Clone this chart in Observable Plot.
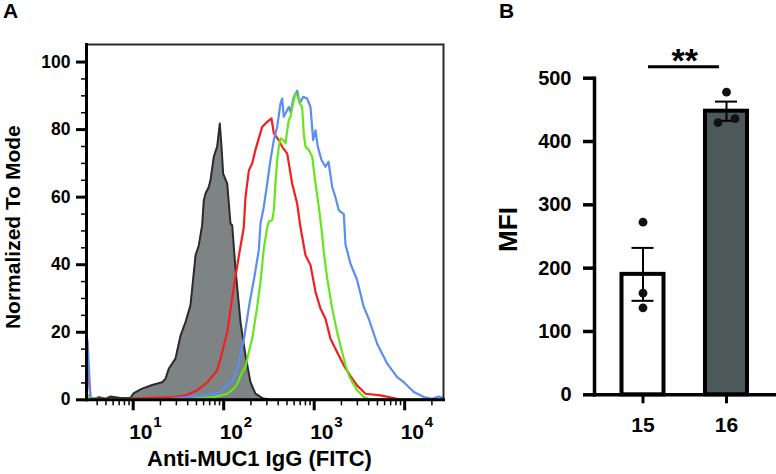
<!DOCTYPE html>
<html><head><meta charset="utf-8">
<script src="https://cdn.jsdelivr.net/npm/d3@7"></script>
<script src="https://cdn.jsdelivr.net/npm/@observablehq/plot@0.6"></script>
<style>
html,body{margin:0;padding:0;background:#fff;}
#wrap{position:relative;width:776px;height:474px;overflow:hidden;font-family:"Liberation Sans",Arial,sans-serif;font-weight:bold;color:#000;}
#a{position:absolute;left:0;top:0;width:480px;height:474px;}
#b{position:absolute;left:480px;top:0;width:296px;height:474px;}
.panel{position:absolute;font-size:21px;font-weight:bold;line-height:normal;}
</style></head><body>
<div id="wrap">
  <div id="a"></div>
  <div id="b"></div>
  <div class="panel" style="left:3px;top:-1px">A</div>
  <div class="panel" style="left:499px;top:-1px">B</div>
</div>
<script>
// ---------- Panel A data: histogram traces (log10 of FITC intensity, % of mode) ----------
const isotypeLog = [0.528,0.560,0.620,0.694,0.749,0.860,0.970,1.007,1.099,1.210,1.320,1.357,1.393,1.467,1.523,1.578,1.633,1.689,1.725,1.762,1.780,1.799,1.835,1.854,1.891,1.928,1.957,1.976,1.994,2.039,2.075,2.094,2.130,2.186,2.241,2.296,2.351,2.429,2.517,4.42];
const isotypeVal = [0,0,0.8,0.3,1.0,0.5,0.6,2.0,3.3,4.4,5.2,6.2,9.2,12.2,19,23,28,42.8,45.7,51.7,59,61,63,65,72,75,81.8,75,67,64,52.2,51.7,38.8,23,13.1,5.2,1.8,0.5,0,0];

const redLog = [0.495,0.528,0.8,1.449,1.578,1.707,1.818,1.928,1.965,2.039,2.112,2.167,2.222,2.241,2.279,2.315,2.351,2.425,2.481,2.528,2.554,2.609,2.646,2.702,2.757,2.812,2.849,2.904,2.960,3.015,3.070,3.125,3.180,3.254,3.327,3.401,3.475,3.567,3.733,3.917,3.987];
const redVal = [11,0.4,0.2,0.8,1.3,2.8,5.2,8.7,12.2,20,33.5,42.5,51,60,68,70,74,80.8,82.3,83.3,78.9,76.9,74.9,72.9,64,58.1,51,42.8,39.8,31.9,27,24,18.1,14.1,10.2,7,4.2,1.8,1.3,0.3,0];

const blueLog = [0.495,0.528,0.639,1.003,1.412,1.707,1.891,1.965,2.039,2.094,2.164,2.230,2.285,2.340,2.388,2.407,2.443,2.481,2.517,2.554,2.591,2.628,2.646,2.664,2.683,2.719,2.738,2.775,2.812,2.841,2.878,2.923,2.959,2.989,3.015,3.040,3.081,3.125,3.158,3.199,3.235,3.272,3.327,3.346,3.401,3.475,3.548,3.603,3.696,3.807,3.917,3.990,4.101,4.211,4.304,4.377,4.429];
const blueVal = [17.6,0.5,0.2,0.1,0.3,1.1,1.8,2.3,4.7,5.2,10.5,19,28.5,36.5,44.3,52.2,57.1,64,71,76.9,80.8,87.8,89.2,83.8,84.8,86.7,85.2,89.7,91.5,87.8,89.7,89.2,86.7,76.9,79.8,74.9,71,69,70.5,63,60,56.1,55,46,40.3,35.4,27.5,24,16.6,10.7,6.7,5.2,2.3,0.8,0.3,1,0.5];

const greenLog = [0.495,0.528,1.633,1.891,2.039,2.112,2.149,2.204,2.241,2.277,2.318,2.370,2.407,2.443,2.481,2.498,2.536,2.554,2.572,2.591,2.609,2.628,2.657,2.683,2.702,2.719,2.738,2.768,2.793,2.819,2.841,2.867,2.885,2.904,2.940,2.978,3.015,3.051,3.081,3.106,3.144,3.199,3.254,3.309,3.346,3.383,3.401,3.475,3.548,3.622,4.285];
const greenVal = [1.5,0.2,0.2,0.8,1.8,3.3,4.7,8.2,9.7,14.1,18.5,27.5,35,44.8,51,52.7,53.2,56.1,64,71,74.9,77.4,76.9,75.9,79.8,82.8,83.8,87.8,90.7,89.7,87.8,86.7,78.9,74.9,74,72,64,57.1,50.5,43.8,35.9,27,20,14.1,10.2,7.2,6.2,2.8,0.8,0.1,0];

const xMajorTicks = [10, 100, 1000, 10000];
const xTickExponents = ["1", "2", "3", "4"];
const yTicksA = [0, 20, 40, 60, 80, 100];
const xTitleA = "Anti-MUC1 IgG (FITC)";
const yTitleA = "Normalized To Mode";

// ---------- Panel B data ----------
const groups = ["15", "16"];
const mfi15 = [272.7, 160.5, 137.4];
const mfi16 = [478, 429.7, 436];
const yTicksB = [0, 100, 200, 300, 400, 500];
const yTitleB = "MFI";
const sigText = "**";

// ---------- helpers ----------
const FONT = '"Liberation Sans", Arial, Helvetica, sans-serif';
const rows = (L, V) => L.map((l, i) => ({x: Math.pow(10, l), y: V[i]}));
const isotype = rows(isotypeLog, isotypeVal);
const red = rows(redLog, redVal);
const blue = rows(blueLog, blueVal);
const green = rows(greenLog, greenVal);

const xDomainA = [Math.pow(10, 0.484), Math.pow(10, 4.429)];
const xMinorTicks = [];
for (const p of [1, 10, 100, 1000, 10000]) for (let m = 2; m <= 9; m++) {
  const v = m * p;
  if (v >= xDomainA[0] && v <= xDomainA[1]) xMinorTicks.push(v);
}
const yMinorA = d3.range(0, 105, 5).filter(v => v % 20 !== 0);

const plotA = Plot.plot({
  width: 480, height: 474,
  marginLeft: 86, marginRight: 37, marginTop: 44, marginBottom: 74.7,
  style: {fontFamily: FONT, fontWeight: "bold", color: "#000", background: "transparent", overflow: "visible"},
  x: {type: "log", domain: xDomainA},
  y: {domain: [0, 105.2]},
  marks: [
    Plot.areaY(isotype, {x: "x", y: "y", fill: "#7e8483"}),
    Plot.lineY(isotype, {x: "x", y: "y", stroke: "#2b2b2b", strokeWidth: 2}),
    Plot.lineY(red, {x: "x", y: "y", stroke: "#f41e1e", strokeWidth: 2.2}),
    Plot.lineY(blue, {x: "x", y: "y", stroke: "#5a8ef2", strokeWidth: 2.2}),
    Plot.lineY(green, {x: "x", y: "y", stroke: "#66e51f", strokeWidth: 2.2}),
    Plot.frame({stroke: "#2a2a2a", strokeWidth: 2}),
    Plot.frame({anchor: "left", stroke: "#000", strokeWidth: 3}),
    Plot.frame({anchor: "bottom", stroke: "#000", strokeWidth: 3}),
    Plot.axisY(yTicksA, {tickSize: 10, tickPadding: 6, strokeWidth: 3, fontSize: 17.5, label: null}),
    Plot.axisY(yMinorA, {tickSize: 5, strokeWidth: 1.5, tickFormat: () => "", label: null}),
    Plot.axisX(xMajorTicks, {tickSize: 11, strokeWidth: 3, tickFormat: () => "", label: null}),
    Plot.axisX(xMinorTicks.filter(v => !xMajorTicks.includes(v)), {tickSize: 6, strokeWidth: 1.5, tickFormat: () => "", label: null}),
    Plot.text(xMajorTicks, {x: d => d, text: () => "10", frameAnchor: "bottom", textAnchor: "start", lineAnchor: "bottom", dx: -4, dy: 39, fontSize: 21}),
    Plot.text(xMajorTicks, {x: d => d, text: (d, i) => xTickExponents[i], frameAnchor: "bottom", textAnchor: "start", lineAnchor: "bottom", dx: 20, dy: 27.4, fontSize: 15}),
    Plot.text([xTitleA], {text: d => d, frameAnchor: "bottom", textAnchor: "middle", lineAnchor: "bottom", dx: -5.5, dy: 65.7, fontSize: 22}),
    Plot.text([yTitleA], {text: d => d, frameAnchor: "left", textAnchor: "middle", lineAnchor: "middle", rotate: -90, dx: -73.5, dy: 5, fontSize: 21})
  ]
});
document.getElementById("a").append(plotA);

// ---------- Panel B ----------
const points = [
  ...mfi15.map(v => ({group: "15", value: v})),
  ...mfi16.map(v => ({group: "16", value: v}))
];
const summary = groups.map(g => {
  const vals = points.filter(p => p.group === g).map(p => p.value);
  const m = d3.mean(vals), se = d3.deviation(vals) / Math.sqrt(vals.length);
  return {group: g, mean: m, lo: m - se, hi: m + se};
});
// simple beeswarm: spread points that would overlap
const dotSpacing = 17, overlapUnits = 15;
for (const g of groups) {
  const pts = points.filter(p => p.group === g).sort((a, b) => a.value - b.value);
  let cluster = [];
  const flush = () => { cluster.forEach((p, i) => p.off = (i - (cluster.length - 1) / 2) * dotSpacing); cluster = []; };
  pts.forEach((p) => {
    if (cluster.length && p.value - cluster[cluster.length - 1].value >= overlapUnits) flush();
    cluster.push(p);
  });
  flush();
}
const offsets = [...new Set(points.map(p => p.off))];
const sig = [{from: "15", to: "16"}];
const sigLevel = 518;
const bandPad = 0.497;
const xRangeB = [100, 308.5];
const stepB = (xRangeB[1] - xRangeB[0]) / (groups.length + bandPad);

const plotB = Plot.plot({
  width: 296, height: 474,
  marginLeft: 114, marginRight: 0, marginTop: 77.7, marginBottom: 79.7,
  style: {fontFamily: FONT, fontWeight: "bold", color: "#000", background: "transparent", overflow: "visible"},
  x: {type: "band", domain: groups, range: xRangeB, padding: bandPad, round: false},
  y: {domain: [0, 500]},
  color: {domain: groups, range: ["#ffffff", "#4d5858"]},
  marks: [
    Plot.barY(summary, {x: "group", y: "mean", fill: "group", stroke: "#000", strokeWidth: 4}),
    Plot.ruleX(summary, {x: "group", y1: "lo", y2: "hi", stroke: "#000", strokeWidth: 2}),
    Plot.tickY(summary, {x: "group", y: "hi", insetLeft: 10, insetRight: 10, stroke: "#000", strokeWidth: 2}),
    Plot.tickY(summary, {x: "group", y: "lo", insetLeft: 10, insetRight: 10, stroke: "#000", strokeWidth: 2}),
    ...offsets.map(o => Plot.dot(points.filter(p => p.off === o), {x: "group", y: "value", r: 4.4, fill: "#111", stroke: "none", dx: o})),
    Plot.frame({anchor: "left", stroke: "#000", strokeWidth: 3.5}),
    Plot.frame({anchor: "bottom", stroke: "#000", strokeWidth: 3.5}),
    Plot.axisY(yTicksB, {tickSize: 11, tickPadding: 12, strokeWidth: 3.5, fontSize: 20, label: null}),
    Plot.axisX(groups, {tickSize: 9, tickPadding: 13, strokeWidth: 3, fontSize: 21, label: null}),
    Plot.ruleY(sig, {x1: "from", x2: "to", y: () => sigLevel, insetLeft: 26.5, insetRight: 28, stroke: "#000", strokeWidth: 3}),
    Plot.text(sig, {x: "to", y: () => sigLevel, text: () => sigText, dx: -stepB / 2, dy: 5, lineAnchor: "bottom", fontSize: 34}),
    Plot.text([yTitleB], {text: d => d, frameAnchor: "left", textAnchor: "middle", lineAnchor: "middle", rotate: -90, dx: -86, dy: -7, fontSize: 26})
  ]
});
document.getElementById("b").append(plotB);
</script>
</body></html>
